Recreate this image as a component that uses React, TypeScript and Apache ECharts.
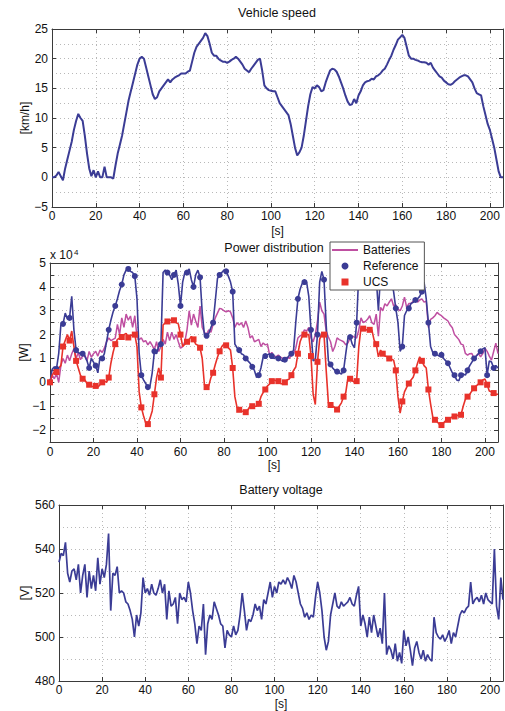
import React, { useEffect, useRef } from 'react';
import * as echarts from 'echarts';

// ---------- data (1 sample per second, t = 0 … 206 s) ----------
const speedKmh = [
  0, 0, 0.3, 0.9, 0.2, -0.5, 1.5, 3, 4.5, 6,
  8, 9.5, 10.7, 10, 9.5, 7, 4, 1.5, 0.2, 1.2,
  0, 1, 0, 0, 1.8, 0, 0, 0, -0.2, 2,
  4, 5.5, 7, 9, 11, 13, 14.5, 16, 17.5, 19,
  20, 20.3, 20, 18.5, 17, 15.5, 14, 13.2, 13.5, 14.5,
  15, 15.5, 16, 16.5, 16, 16.5, 16.8, 17, 17.2, 17.5,
  17.5, 17.5, 17.8, 18, 19.5, 21, 22, 22.5, 23, 23.5,
  24.3, 23.8, 22.5, 21, 20.5, 20.5, 20, 19.7, 19.5, 19.5,
  19.3, 19.5, 19.8, 20, 20.3, 20, 19.5, 19, 18.3, 18,
  17.7, 18.3, 18.8, 19.3, 19.8, 20, 18, 15.5, 15, 14.7,
  14.6, 14.5, 14.5, 13.5, 12.5, 12, 11.5, 11, 10.5, 9,
  7, 5, 3.7, 4.2, 5, 7, 9.5, 12, 14, 15.2,
  15, 15.5, 15.2, 14.5, 14.7, 16, 17, 18, 18.3, 18.2,
  17.8, 17, 16, 15, 13.8, 12.8, 12.2, 12.3, 13.2, 12.5,
  13.8, 14.5, 15.5, 16, 16.2, 16.3, 16.6, 16.5, 17, 17.2,
  17.5, 18, 18.3, 19, 19.8, 20.5, 21.5, 22.3, 23.2, 23.6,
  24, 23.5, 22, 20.5, 20, 20, 19.8, 19.7, 19.5, 19.4,
  19.4, 19.3, 19, 19.3, 18.5, 18, 17.5, 17, 16.8, 16.3,
  16, 15.7, 15.6, 15.8, 16.2, 16.5, 16.8, 17, 17.2, 17.2,
  17, 16.5, 16, 15, 14.2, 14, 13.8, 12, 10.5, 9,
  8, 6.5, 5, 3, 1, 0, 0,
];

// power values in units of 10^4 W
const batteriesPower = [
  0, 0.3, 0.15, 0.36, 0, 0.7, 1, 0.8, 1.14, 0.9,
  1.2, 1.4, 1, 1.25, 0.95, 1.1, 1.14, 0.9, 1.29, 1.05,
  1.2, 1.3, 1.1, 1.35, 1.25, 1.43, 1.7, 1.86, 1.75, 1.8,
  1.85, 2.43, 2, 2.7, 2.3, 2.86, 2.6, 2.78, 2.3, 2.79,
  1.9, 1.79, 1.86, 1.7, 1.75, 1.57, 1.7, 1.55, 1.36, 1.7,
  1.29, 1.5, 1.8, 1.6, 2.1, 1.75, 2.1, 1.8, 2, 1.7,
  1.43, 1.5, 1.7, 2.2, 3, 2.4, 2.86, 2.57, 2.3, 3.2,
  2.3, 2.1, 2, 2.2, 2.1, 2.43, 2.7, 2.9, 3.1, 3.07,
  3, 2.95, 3, 2.95, 2.7, 2.3, 2.5, 2.4, 2.5, 2.3,
  2.57, 2.3, 1.86, 1.95, 1.7, 1.75, 1.8, 1.5, 1.65, 1.57,
  1.6, 1.14, 1.25, 1.1, 1.07, 1.14, 1.05, 1, 0.93, 1.05,
  1, 1.14, 1.2, 1.43, 1.86, 1.95, 2, 2.2, 2.15, 2.3,
  1.86, 1.7, 2, 2.57, 3.36, 3, 2.86, 2.14, 1.9, 1.7,
  1.29, 1.5, 1.86, 1.79, 1.75, 1.7, 1.57, 1.65, 1.86, 1.93,
  1.9, 1.86, 2.2, 2.7, 2.5, 2.55, 2.64, 2.79, 2.5, 2.43,
  2.86, 1.93, 3.14, 3, 3.29, 3.2, 3.36, 3.5, 3.2, 3.25,
  3.07, 3, 3.2, 3.57, 3.14, 3.3, 3.3, 3.4, 3.5, 3.36,
  3.45, 3.5, 3.36, 3.4, 2.3, 2.64, 2.7, 2.79, 2.93, 2.85,
  2.79, 2.7, 2.64, 2.57, 2.4, 2.29, 2, 1.9, 1.79, 1.6,
  1.57, 1.21, 1.14, 1.2, 1.21, 1, 1.1, 1.21, 1.07, 1.2,
  1.43, 1.3, 1.1, 0.93, 1.29, 1.64, 1.2,
];

const referencePower = [
  0, 0.55, 0.65, 0.57, 1.2, 2.4, 2.45, 2.9, 2.65, 2.7,
  3.6, 2.2, 1.35, 1.25, 1.2, 1.2, 1.1, 0.9, 0.6, 1,
  0.85, 0.7, 0.4, 1.05, 1, 1.2, 1.7, 2.2, 2.6, 2.95,
  3.2, 3.5, 3.85, 4.1, 4.5, 4.7, 4.75, 4.65, 4.6, 4.45,
  3.5, 1.2, 0.3, 0.1, -0.05, -0.2, -0.15, 0.4, 1.3, 1.2,
  1.5, 1.6, 4.6, 4.7, 4.6, 4.5, 4.3, 4.5, 4.7, 4.1,
  3.2, 4.2, 4.6, 4.6, 4.75, 4.3, 4, 4.5, 4.7, 4.4,
  2.9, 2, 1.95, 2.05, 2.3, 2.5, 3.4, 4.35, 4.5, 4.6,
  4.7, 4.65, 4.45, 4.2, 3.8, 1.6, 1.45, 1.35, 1.2, 1.15,
  1, 0.9, 0.8, 0.65, 0.5, 0.2, 0.3, 0.6, 1.05, 1.1,
  1.15, 1.2, 1.1, 1, 1.05, 1, 0.95, 0.88, 0.95, 1,
  1.12, 1.2, 1.35, 2.5, 3.5, 3.9, 4.15, 4.2, 4.2, 3.6,
  2.2, 0.9, 0.95, 2, 4.2, 4.65, 4.3, 2.4, 0.9, 0.75,
  0.6, 0.5, 0.45, 0.4, 0.35, 0.5, 1.2, 1.85, 1.9, 1.6,
  1.45, 2.5, 4.6, 4.5, 4.4, 4.3, 4.4, 4.5, 4.4, 4.3,
  4.4, 3, 4.5, 4.3, 4.2, 4.3, 4.1, 4.2, 3.8, 3.1,
  2.5, 1.3, 1.5, 2.8, 3, 3.1, 3.3, 3.35, 3.45, 3.5,
  3.6, 3.8, 4.2, 3.5, 2.5, 1.5, 1.25, 1.2, 1.15, 1.1,
  1.15, 1, 0.9, 0.8, 0.6, 0.4, 0.3, 0.1, 0.07, 0.3,
  0.35, 0.3, 0.5, 0.7, 0.85, 1, 1.1, 1.2, 1.3, 1.4,
  1.45, 0.3, 0.9, 0.85, 0.6, 0.7, 0.6,
];

const ucsPower = [
  0, 0.3, 0.45, 0.43, 0.6, 0.7, 1.5, 1.75, 2, 1.75,
  2.15, 1.5, 0.9, 0.6, 0.3, 0.15, 0.1, -0.05, -0.1, -0.15,
  -0.2, -0.15, -0.2, -0.1, 0, 0.05, 0, 0.2, 0.8, 1.25,
  1.6, 1.8, 1.85, 1.9, 2, 2.05, 1.88, 1.95, 2, 2,
  1.5, -0.4, -1.05, -1.4, -1.7, -1.75, -1.5, -1.2, -0.5, 0.2,
  0.6, 0.2, 2.4, 2.5, 2.55, 2.6, 2.6, 2.6, 2.5, 2.45,
  2, 1.5, 1.6, 1.7, 1.8, 1.92, 1.8, 1.6, 1.55, 1.45,
  1, -0.1, -0.2, -0.15, 0.2, 0.4, 0.75, 1.05, 1.3, 1.5,
  1.6, 1.55, 1.45, 1.35, 0.6, -0.6, -1.05, -1.15, -1.2, -1.22,
  -1.25, -1.15, -1, -1, -1, -1, -0.9, -0.6, -0.43, -0.3,
  -0.15, -0.07, 0.05, 0.1, 0.07, 0.05, -0.05, -0.07, 0, 0.1,
  0.14, 0.3, 0.5, 0.64, 1.2, 1.7, 1.93, 2, 2, 2,
  1.1, -0.5, -0.93, 0.86, 1.8, 2.07, 2, 0.5, -0.86, -0.95,
  -1, -1.07, -1.14, -1, -0.86, -0.6, -0.43, 0.2, 0.15, 0.07,
  0, 0.05, 1.5, 2.28, 2.25, 2.2, 2.2, 2.2, 2.2, 1.78,
  1.6, 1.07, 1.35, 1.2, 1.1, 1.07, 1, 0.97, 0.93, 0.5,
  -0.6, -1.29, -0.8, -0.4, -0.21, -0.05, 0.1, 0.21, 0.5, 0.8,
  1.07, 0.9, 0.7, 0.6, -0.3, -0.9, -1.45, -1.57, -1.65, -1.75,
  -1.79, -1.7, -1.6, -1.57, -1.5, -1.45, -1.43, -1.4, -1.37, -1.36,
  -1, -0.71, -0.6, -0.5, -0.36, -0.25, -0.15, -0.07, 0, 0.1,
  0.14, -0.1, -0.36, -0.4, -0.45, -0.5, -0.5,
];

const batteryVoltage = [
  534, 538, 537, 543, 529, 525, 530, 531, 526, 533,
  520, 528, 533, 518, 530, 522, 528, 521, 536, 524,
  531, 527, 533, 547, 512, 529, 528, 532, 520, 521,
  520, 516, 515, 512, 508, 500, 510, 505, 511, 527,
  520, 522, 519, 524, 520, 519, 522, 526, 520, 524,
  508, 521, 514, 515, 518, 506, 520, 517, 518, 516,
  525, 520, 512, 506, 497, 505, 503, 515, 492, 506,
  510, 508, 516, 513, 510, 506, 505, 495, 503, 501,
  500, 505, 501, 503, 510, 520, 512, 503, 508, 507,
  510, 515, 512, 514, 508, 517, 515, 520, 525, 518,
  523, 520, 525, 524, 526, 524, 527, 525, 522, 528,
  525, 520, 515, 513, 509, 511, 508, 510, 509, 518,
  525, 520, 512, 500, 494, 498, 510, 515, 520, 514,
  513, 516, 514, 515, 516, 518, 515, 514, 519, 523,
  505, 510, 506, 500, 509, 502, 510, 505, 500, 504,
  497, 520, 492, 496, 494, 490, 497, 489, 493, 488,
  503, 496, 500, 494, 487, 495, 498, 493, 490, 494,
  489, 492, 490, 489, 509, 502, 500, 499, 501, 498,
  500, 503, 497, 502, 500, 505, 510, 512, 511, 513,
  514, 525, 515, 517, 518, 516, 519, 515, 520, 517,
  516, 515, 540, 514, 508, 527, 517,
];

const timeS = speedKmh.map((_, i) => i);
const xTickStep = 20;
const xMax = 206;
const markerEvery = 3;

// ---------- styling ----------
const FONT = '"Liberation Sans", Arial, Helvetica, sans-serif';
const BLUE = '#3b3c95';
const MAGENTA = '#bf4fa1';
const RED = '#e8322b';
const AXIS = '#3a3a3a';
const GRIDC = '#b8b8b8';

const minusFmt = (v: number) => (v < 0 ? '\u2212' + Math.abs(v) : String(v));

function xAxesFor(gridIndex: number, nameGap: number, labelMargin: number) {
  return [
    {
      type: 'value', gridIndex, position: 'bottom', min: 0, max: xMax, interval: xTickStep,
      name: '[s]', nameLocation: 'middle', nameGap, nameMoveOverlap: false,
      nameTextStyle: { fontSize: 12, fontFamily: FONT, color: '#111' },
      axisLine: { onZero: false, lineStyle: { color: AXIS, width: 1 } },
      axisTick: { inside: true, length: 4, lineStyle: { color: AXIS } },
      axisLabel: { fontSize: 12, fontFamily: FONT, color: '#111', margin: labelMargin, showMaxLabel: false },
      splitLine: { show: true, lineStyle: { color: GRIDC, type: [1, 3], width: 1 } },
    },
    {
      type: 'value', gridIndex, position: 'top', min: 0, max: xMax, interval: xTickStep,
      axisLine: { onZero: false, lineStyle: { color: AXIS, width: 1 } },
      axisTick: { inside: true, length: 4, lineStyle: { color: AXIS } },
      axisLabel: { show: false },
      splitLine: { show: false },
    },
  ];
}

function yAxesFor(gridIndex: number, o: any) {
  const common = { type: 'value', gridIndex, min: o.min, max: o.max, interval: o.interval };
  return [
    {
      ...common, position: 'left',
      name: o.name, nameLocation: 'middle', nameGap: o.nameGap, nameRotate: 90, nameMoveOverlap: false,
      nameTextStyle: { fontSize: 12, fontFamily: FONT, color: '#111' },
      axisLine: { onZero: false, lineStyle: { color: AXIS, width: 1 } },
      axisTick: { inside: true, length: 4, lineStyle: { color: AXIS } },
      axisLabel: { fontSize: 12, fontFamily: FONT, color: '#111', margin: o.labelMargin, formatter: o.formatter },
      splitLine: { show: true, lineStyle: { color: GRIDC, type: [1, 3], width: 1 } },
      minorTick: { show: false, splitNumber: o.minorSplit || 2 },
      minorSplitLine: { show: !!o.minorSplit, lineStyle: { color: GRIDC, type: [1, 3], width: 1 } },
    },
    {
      ...common, position: 'right',
      axisLine: { onZero: false, lineStyle: { color: AXIS, width: 1 } },
      axisTick: { inside: true, length: 4, lineStyle: { color: AXIS } },
      axisLabel: { show: false },
      splitLine: { show: false },
    },
  ];
}

function markedData(values: number[], symbol: string) {
  return values.map((v, i) => ({
    value: [timeS[i], v],
    symbol: i % markerEvery === 0 ? symbol : 'none',
  }));
}

export default function App() {
  const ref = useRef<HTMLDivElement>(null);

  useEffect(() => {
    if (!ref.current) return;
    const chart = echarts.init(ref.current, undefined, { renderer: 'svg' });

    const titleStyle = { fontSize: 12.5, fontWeight: 'normal', fontFamily: FONT, color: '#111' };

    const option: any = {
      animation: false,
      backgroundColor: '#fff',
      title: [
        { text: 'Vehicle speed', left: 277, top: 6, textAlign: 'center', textStyle: titleStyle, padding: 0 },
        { text: 'Power distribution', left: 274, top: 241, textAlign: 'center', textStyle: titleStyle, padding: 0 },
        { text: 'Battery voltage', left: 281, top: 483, textAlign: 'center', textStyle: titleStyle, padding: 0 },
      ],
      grid: [
        { left: 52, top: 29, width: 451, height: 178 },
        { left: 50, top: 263, width: 448, height: 179 },
        { left: 59, top: 505, width: 444, height: 177 },
      ],
      xAxis: [
        ...xAxesFor(0, 18, 3),
        ...xAxesFor(1, 17, 4),
        ...xAxesFor(2, 17, 3),
      ],
      yAxis: [
        ...yAxesFor(0, { min: -5, max: 25, interval: 5, minorSplit: 2, name: '[km/h]', nameGap: 21, labelMargin: 4, formatter: minusFmt }),
        ...yAxesFor(1, {
          min: -2.5, max: 5, interval: 0.5, name: '[W]', nameGap: 20, labelMargin: 4,
          formatter: (v: number) => (Number.isInteger(v) ? minusFmt(v) : ''),
        }),
        ...yAxesFor(2, { min: 480, max: 560, interval: 20, minorSplit: 2, name: '[V]', nameGap: 28, labelMargin: 4, formatter: minusFmt }),
      ],
      legend: {
        orient: 'vertical', left: 330, top: 242,
        data: [
          { name: 'Batteries', icon: 'path://M0,0H26V2H0Z' },
          { name: 'Reference', icon: 'circle' },
          { name: 'UCS', icon: 'path://M0,0H10V10H0Z' },
        ],
        itemWidth: 26, itemHeight: 7, itemGap: 4,
        symbolKeepAspect: true,
        backgroundColor: '#fff', borderColor: '#555', borderWidth: 1,
        padding: [2, 6, 2, 2],
        textStyle: { fontSize: 12, fontFamily: FONT, color: '#111' },
        selectedMode: false,
      },
      graphic: [
        { type: 'text', x: 50, y: 261, style: { text: 'x 10', fontSize: 12, fontFamily: FONT, fill: '#111', verticalAlign: 'bottom' } },
        { type: 'text', x: 74, y: 256, style: { text: '4', fontSize: 8, fontFamily: FONT, fill: '#111', verticalAlign: 'bottom' } },
      ],
      series: [
        {
          name: 'Vehicle speed', type: 'line', xAxisIndex: 0, yAxisIndex: 0,
          data: speedKmh.map((v, i) => [timeS[i], v]),
          symbol: 'none', lineStyle: { color: BLUE, width: 2 }, itemStyle: { color: BLUE },
        },
        {
          name: 'Batteries', type: 'line', xAxisIndex: 2, yAxisIndex: 2,
          data: batteriesPower.map((v, i) => [timeS[i], v]),
          symbol: 'none', lineStyle: { color: MAGENTA, width: 1.5 }, itemStyle: { color: MAGENTA },
        },
        {
          name: 'Reference', type: 'line', xAxisIndex: 2, yAxisIndex: 2,
          data: markedData(referencePower, 'circle'),
          showSymbol: true, showAllSymbol: true, symbolSize: 6,
          lineStyle: { color: BLUE, width: 1.6 }, itemStyle: { color: BLUE, borderColor: BLUE, borderWidth: 0 },
        },
        {
          name: 'UCS', type: 'line', xAxisIndex: 2, yAxisIndex: 2,
          data: markedData(ucsPower, 'rect'),
          showSymbol: true, showAllSymbol: true, symbolSize: 6,
          lineStyle: { color: RED, width: 1.6 }, itemStyle: { color: RED, borderColor: RED, borderWidth: 0 },
        },
        {
          name: 'Battery voltage', type: 'line', xAxisIndex: 4, yAxisIndex: 4,
          data: batteryVoltage.map((v, i) => [timeS[i], v]),
          symbol: 'none', lineStyle: { color: BLUE, width: 1.7 }, itemStyle: { color: BLUE },
        },
      ],
    };

    chart.setOption(option);
    return () => chart.dispose();
  }, []);

  return (
    <div
      ref={ref}
      style={{ position: 'fixed', left: 0, top: 0, width: 505, height: 711, background: '#fff' }}
    />
  );
}
